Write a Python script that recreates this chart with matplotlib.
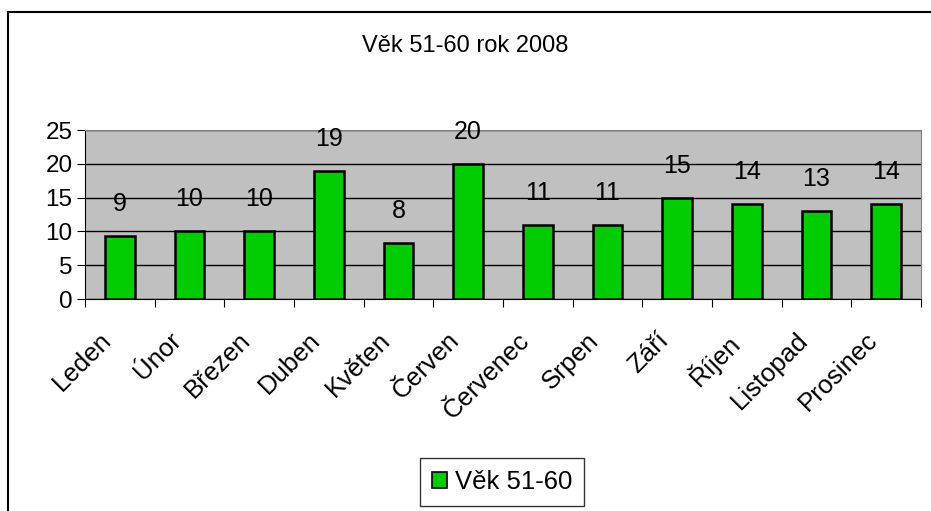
import matplotlib
matplotlib.use("Agg")
import matplotlib.pyplot as plt
from matplotlib.lines import Line2D
from matplotlib.patches import Patch
import numpy as np

plt.rcParams['font.family'] = ['Liberation Sans', 'DejaVu Sans']

# data
months = ["Leden", "Únor", "Březen", "Duben", "Květen", "Červen",
          "Červenec", "Srpen", "Září", "Říjen", "Listopad", "Prosinec"]
values = [9.3, 10, 10, 19, 8.3, 20, 11, 11, 15, 14, 13, 14]
yticks = [0, 5, 10, 15, 20, 25]
title = "Věk 51-60 rok 2008"
series_name = "Věk 51-60"

W, H = 931, 511
fig = plt.figure(figsize=(W / 100, H / 100), dpi=100)
fig.patch.set_facecolor("white")

# axes placed in pixel coords of the reference
x0, x1, y0, y1 = 85, 921, 130, 299
ax = fig.add_axes([x0 / W, 1 - y1 / H, (x1 - x0) / W, (y1 - y0) / H])
ax.set_facecolor("#C0C0C0")

x = np.arange(len(months))
ax.bar(x, values, width=0.43, color="#00CC00", edgecolor="black", linewidth=1.8, zorder=3)

ax.set_xlim(-0.5, len(months) - 0.5)
ax.set_ylim(0, 25)
ax.set_yticks(yticks)
ax.yaxis.grid(True, color="black", linewidth=1, zorder=0)
ax.tick_params(axis="y", labelsize=17.5, length=6, direction="out", pad=3)

# ticks between categories, labels slightly left of centres (excel style)
ax.set_xticks(np.arange(len(months) + 1) - 0.5)
ax.set_xticklabels([])
ax.tick_params(axis="x", which="major", length=6, direction="out")
ax.set_xticks(x - 0.3, minor=True)
ax.set_xticklabels(months, minor=True, rotation=45, ha="right", va="top",
                   rotation_mode="anchor", fontsize=18.5)
ax.tick_params(axis="x", which="minor", length=0, pad=21)

for s in ["top", "right"]:
    ax.spines[s].set_color("#808080")
ax.spines["left"].set_color("black")
ax.spines["bottom"].set_color("black")

for xi, v in zip(x, values):
    ax.annotate(f"{v:.0f}", (xi, v), xytext=(0, 23), textcoords="offset points",
                ha="center", va="center", fontsize=18, zorder=4)

fig.text(0.5, 1 - 46 / H, title, ha="center", va="center", fontsize=17)

handle = Patch(facecolor="#00CC00", edgecolor="black", linewidth=1.2)
leg = fig.legend([handle], [series_name], loc="center", bbox_to_anchor=(502 / W, 1 - 482 / H),
                 fontsize=18.5, frameon=True, fancybox=False, handlelength=0.6, handleheight=0.6,
                 handletextpad=0.3, borderpad=0.45)
leg.get_frame().set_edgecolor("black")
leg.get_frame().set_linewidth(1)

# outer frame (top and left edges visible)
fig.add_artist(Line2D([8 / W, 1], [1 - 12 / H, 1 - 12 / H], color="black", linewidth=1.5))
fig.add_artist(Line2D([8 / W, 8 / W], [0, 1 - 12 / H], color="black", linewidth=1.5))

fig.savefig("out.png", dpi=100)
